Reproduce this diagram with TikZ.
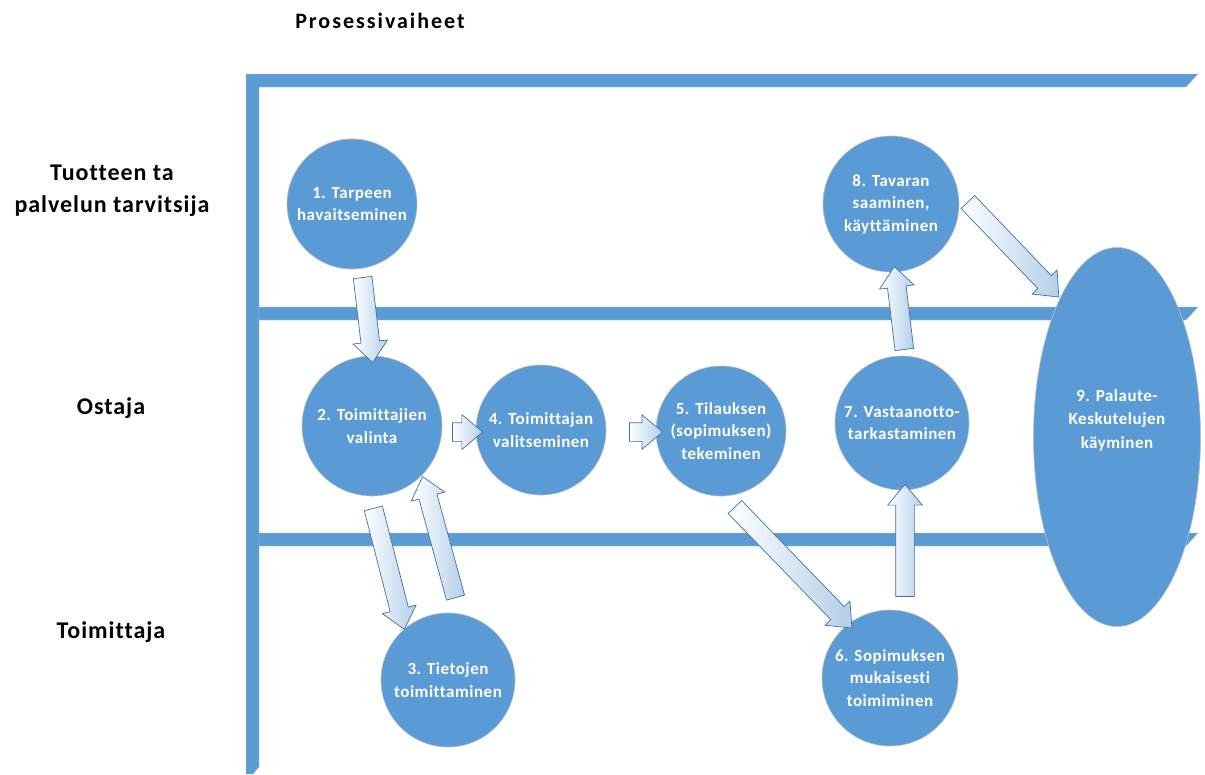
\documentclass[tikz,border=0pt]{standalone}
\usepackage{fontspec}
\setmainfont{Carlito}
\newfontfamily\titlefont[LetterSpace=9,Ligatures=NoCommon]{Carlito}
\newfontfamily\lanefont[LetterSpace=4,Ligatures=NoCommon]{Carlito}
\newfontfamily\stagefont[LetterSpace=3,Ligatures=NoCommon]{Carlito}
\usetikzlibrary{shapes.arrows,shapes.geometric,calc}

\definecolor{laneblue}{HTML}{5B9BD5}
\definecolor{arrowedge}{HTML}{41719C}
\definecolor{arrowfill}{HTML}{B4CFEA}
\definecolor{rimgray}{HTML}{B8BEC6}

\tikzset{
  lanebar/.style={fill=laneblue, draw=rimgray, line width=0.4pt},
  stage/.style={circle, fill=laneblue, draw=rimgray, line width=0.6pt,
    text=white, align=center, inner sep=0pt, minimum size=#1,
    font=\stagefont\bfseries\fontsize{17}{22.5}\selectfont},
  stagetext/.style={text=white, align=center, inner sep=0pt,
    font=\stagefont\bfseries\fontsize{17}{23.5}\selectfont},
  lanelabel/.style={align=center, inner sep=0pt,
    font=\lanefont\bfseries\fontsize{24}{32}\selectfont},
  blockarrow/.style={single arrow, draw=arrowedge, line width=0.7pt,
    left color=white, right color=arrowfill,
    inner xsep=0pt, inner ysep=9pt,
    single arrow head extend=8pt, single arrow tip angle=80}
}

% block arrow drawn between two points given relative to named nodes
\newcommand\flowarrow[2]{%
  \path let \p1=#1, \p2=#2,
    \n1={atan2(\y2-\y1,\x2-\x1)},
    \n2={veclen(\x2-\x1,\y2-\y1)} in
    node[blockarrow, rotate=\n1, minimum height=\n2]
      at ($(\p1)!0.5!(\p2)$) {};}

\begin{document}
\begin{tikzpicture}[x=1pt, y=-1pt]
\useasboundingbox (0,0) rectangle (1205,774);

% swimlane frame
\path[lanebar] (246,74) -- (1198,74) -- (1186,87) -- (259,87) -- (259,767)
  -- (253,774) -- (246,774) -- cycle;
\path[lanebar] (259,307) -- (1198,307) -- (1186,320) -- (259,320) -- cycle;
\path[lanebar] (259,533) -- (1198,533) -- (1186,546) -- (259,546) -- cycle;

% headings
\node[font=\titlefont\bfseries\fontsize{22}{26}\selectfont, inner sep=0pt]
  (head) at (380,21) {Prosessivaiheet};
\node[lanelabel] (laneA) at (112,191) {Tuotteen ta\\palvelun tarvitsija};
\node[lanelabel] (laneB) at (111,408) {Ostaja};
\node[lanelabel] (laneC) at (111,632) {Toimittaja};

% process stages
\node[stage=130pt] (c1) at (352,204) {1. Tarpeen\\havaitseminen};
\node[stage=140pt] (c2) at (372,426) {2. Toimittajien\\valinta};
\node[stage=134pt] (c3) at (448,680) {3. Tietojen\\toimittaminen};
\node[stage=130pt] (c4) at (541,430) {4. Toimittajan\\valitseminen};
\node[stage=130pt] (c5) at (721,431) {5. Tilauksen\\(sopimuksen)\\tekeminen};
\node[stage=136pt] (c6) at (890,678) {6. Sopimuksen\\mukaisesti\\toimiminen};
\node[stage=134pt] (c7) at (902,423) {7. Vastaanotto-\\tarkastaminen};
\node[stage=136pt] (c8) at (891,204) {8. Tavaran\\saaminen,\\käyttäminen};
\node[ellipse, fill=laneblue, draw=rimgray, line width=0.6pt, inner sep=0pt,
  minimum width=167pt, minimum height=379pt] (e9) at (1117,437) {};
\node[stagetext] (t9) at ($(e9)+(0,-17)$) {9. Palaute-\\Keskutelujen\\käyminen};

% flow between stages
\flowarrow{($(c1)+(10,68)$)}{($(c2)+(0,-69)$)}
\flowarrow{($(c2)+(75,6)$)}{($(c4)+(-64,2)$)}
\flowarrow{($(c4)+(83,2)$)}{($(c5)+(-64,1)$)}
\flowarrow{($(c2)+(0,77)$)}{($(c3)+(-45,-56)$)}
\flowarrow{($(c3)+(9,-77)$)}{($(c2)+(52,56)$)}
\flowarrow{($(c5)+(10,72)$)}{($(c6)+(-42,-54)$)}
\flowarrow{($(c6)+(15,-76)$)}{($(c7)+(3,67)$)}
\flowarrow{($(c7)+(3,-68)$)}{($(c8)+(4,68)$)}
\flowarrow{($(c8)+(73,-6)$)}{($(e9)+(-62,-144)$)}
\end{tikzpicture}
\end{document}
